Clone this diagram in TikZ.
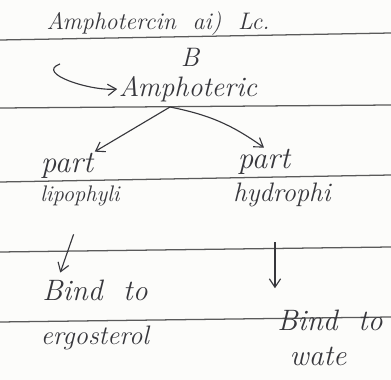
\documentclass[tikz,border=0pt]{standalone}
\usepackage{xcolor}
\usepackage{tikz}
\usetikzlibrary{arrows.meta,positioning}
\definecolor{inkgray}{RGB}{55,55,60}
\definecolor{ruleline}{RGB}{90,90,90}
\definecolor{paper}{RGB}{252,252,250}

\begin{document}
\begin{tikzpicture}[
                x=0.025cm, y=-0.025cm,
                ink/.style={inner sep=1pt, text=inkgray, font=\fontsize{19}{21}\selectfont\itshape},
                arr/.style={-{Straight Barb[length=6pt,width=8pt]}, thick, draw=inkgray}
            ]
                \useasboundingbox (0,0) rectangle (391,380);
                \fill[paper] (0,0) rectangle (391,380);
                % ruled lines of the page
                \foreach \yl/\yr in {40/33, 108/105, 182/175, 252/247, 322/317}
                    \draw[ruleline, line width=0.9pt] (0,\yl) -- (391,\yr);

                \node[ink, font=\fontsize{17}{19}\selectfont\itshape] (amb) at (158,24) {Amphotercin \ ai) \ Lc.};
                \node[ink] (bee) at (190,57) {B};
                \node[ink, font=\fontsize{20}{22}\selectfont\itshape] (amph) at (188,89) {Amphoteric};
                \node[ink, font=\fontsize{22}{24}\selectfont\itshape] (partl) at (67,166) {part};
                \node[ink, font=\fontsize{16}{18}\selectfont\itshape] (lipo) at (80,196) {lipophyli};
                \node[ink, font=\fontsize{22}{24}\selectfont\itshape] (parth) at (264,162) {part};
                \node[ink] (hydro) at (282,195) {hydrophi};
                \node[ink, font=\fontsize{21}{23}\selectfont\itshape] (bindl) at (95,290) {Bind \ to};
                \node[ink] (ergo) at (95,338) {ergosterol};
                \node[ink, font=\fontsize{21}{23}\selectfont\itshape] (bindr) at (330,320) {Bind \ to};
                \node[ink, font=\fontsize{21}{23}\selectfont\itshape] (wate) at (318,356) {wate};
                \coordinate (curl) at (60,64);
                \coordinate (split) at (170,107);

                \draw[arr] (curl) to[out=200, in=185, looseness=1.1] (amph.west);
                \draw[arr] (split) -- (partl.north east);
                \draw[arr] (split) to[bend left=12] (parth.north);
                \draw[arr, shorten <=20pt, shorten >=4pt] ([xshift=2pt]lipo.south) -- ([xshift=-26pt]bindl.north);
                \draw[arr, shorten <=24pt, shorten >=14pt] ([xshift=-5pt]hydro.south) -- ([xshift=-5pt]hydro.south |- bindr.north);
            \end{tikzpicture}
\end{document}
